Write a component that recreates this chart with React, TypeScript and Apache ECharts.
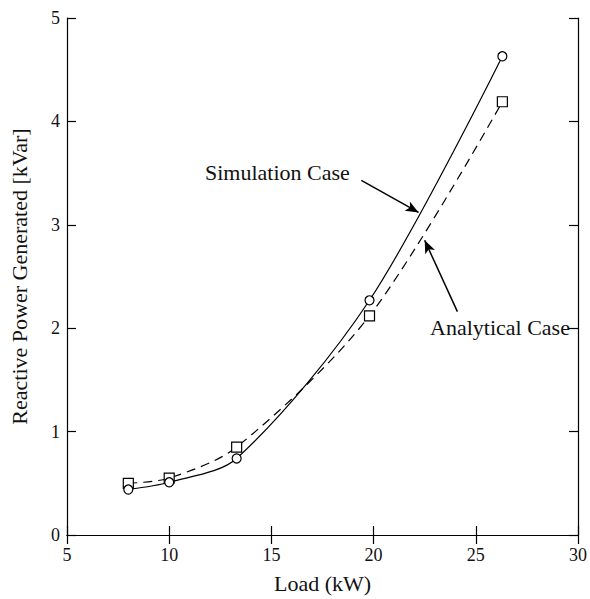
import React, { useEffect, useRef } from "react";
import * as echarts from "echarts";

const loadKW = [8, 10, 13.3, 19.8, 26.3];
const simulationKVar = [0.44, 0.51, 0.74, 2.27, 4.63];
const analyticalKVar = [0.5, 0.55, 0.85, 2.12, 4.19];
const xTicks = [5, 10, 15, 20, 25, 30];
const yTicks = [0, 1, 2, 3, 4, 5];
const simulationArrow = [[19.4, 3.43], [22.2, 3.12]];
const analyticalArrow = [[24.1, 2.16], [22.5, 2.85]];

const FONT = "'Liberation Serif', 'Times New Roman', serif";

export default function App() {
  const ref = useRef<HTMLDivElement>(null);
  useEffect(() => {
    if (!ref.current) return;
    const chart = echarts.init(ref.current, null, { renderer: "svg" });
    const pairs = (ys: number[]) => loadKW.map((x, i) => [x, ys[i]]);
    const axisCommon = {
      type: "value" as const,
      axisLine: { show: true, lineStyle: { color: "#000", width: 1.2 } },
      axisTick: { show: true, inside: true, length: 9, lineStyle: { color: "#000", width: 1.2 } },
      splitLine: { show: false },
    };
    chart.setOption({
      animation: false,
      backgroundColor: "#fff",
      grid: { left: 67, right: 12, top: 18, bottom: 64 },
      xAxis: [
        {
          ...axisCommon,
          position: "bottom",
          min: xTicks[0],
          max: xTicks[xTicks.length - 1],
          interval: 5,
          name: "Load (kW)",
          nameLocation: "middle",
          nameGap: 37,
          nameTextStyle: { fontFamily: FONT, fontSize: 22, color: "#111" },
          axisLabel: { fontFamily: FONT, fontSize: 18, color: "#111", margin: 11 },
        },
        {
          ...axisCommon,
          position: "top",
          min: xTicks[0],
          max: xTicks[xTicks.length - 1],
          interval: 5,
          axisLabel: { show: false },
        },
      ],
      yAxis: [
        {
          ...axisCommon,
          position: "left",
          min: yTicks[0],
          max: yTicks[yTicks.length - 1],
          interval: 1,
          name: "Reactive Power Generated [kVar]",
          nameLocation: "middle",
          nameGap: 37,
          nameTextStyle: { fontFamily: FONT, fontSize: 22, color: "#111" },
          axisLabel: { fontFamily: FONT, fontSize: 18, color: "#111", margin: 7 },
        },
        {
          ...axisCommon,
          position: "right",
          min: yTicks[0],
          max: yTicks[yTicks.length - 1],
          interval: 1,
          axisLabel: { show: false },
        },
      ],
      series: [
        {
          name: "Simulation Case",
          type: "line",
          data: pairs(simulationKVar),
          smooth: 0.3,
          symbol: "circle",
          symbolSize: 9,
          lineStyle: { color: "#000", width: 1.2, type: "solid" },
          itemStyle: { color: "#fff", borderColor: "#000", borderWidth: 1.2 },
          z: 3,
          markLine: {
            silent: true,
            symbol: ["none", "arrow"],
            symbolSize: [8, 13],
            label: { show: false },
            lineStyle: { color: "#000", width: 1.5, type: "solid" },
            data: [
              [
                { coord: simulationArrow[0] },
                { coord: simulationArrow[1] },
              ],
              [
                { coord: analyticalArrow[0] },
                { coord: analyticalArrow[1] },
              ],
            ],
          },
        },
        {
          name: "Analytical Case",
          type: "line",
          data: pairs(analyticalKVar),
          smooth: 0.3,
          symbol: "rect",
          symbolSize: 10,
          lineStyle: { color: "#000", width: 1.2, type: [9, 6] },
          itemStyle: { color: "#fff", borderColor: "#000", borderWidth: 1.2 },
          z: 2,
        },
      ],
      graphic: [
        {
          type: "text",
          left: 205,
          top: 161,
          style: { text: "Simulation Case", fontFamily: FONT, fontSize: 22, fill: "#111" },
        },
        {
          type: "text",
          left: 430,
          top: 316,
          style: { text: "Analytical Case", fontFamily: FONT, fontSize: 22, fill: "#111" },
        },
      ],
    });
    return () => chart.dispose();
  }, []);
  return <div ref={ref} style={{ width: 590, height: 599, position: "absolute", left: 0, top: 0 }} />;
}
